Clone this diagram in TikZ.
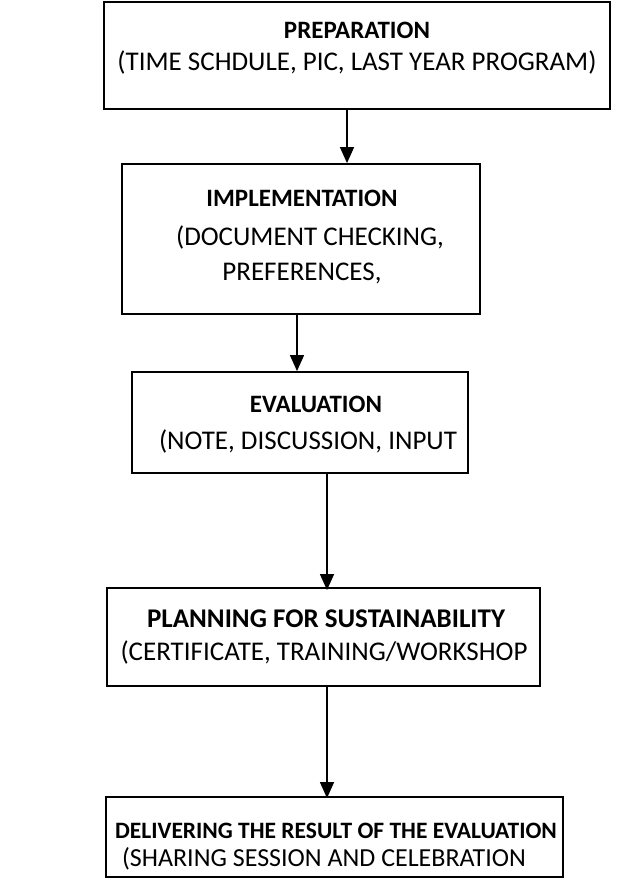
\documentclass[tikz,border=0pt]{standalone}
\usepackage{fontspec}
\setmainfont{Carlito}
\usetikzlibrary{arrows.meta}
\tikzset{
  boxframe/.style={draw, line width=1.8bp, rectangle, inner sep=0pt},
  titletext/.style={anchor=base, inner sep=0pt, font=\bfseries\fontsize{#1}{#1}\selectfont},
  subtext/.style={anchor=base, inner sep=0pt, font=\fontsize{#1}{#1}\selectfont},
  flowarrow/.style={line width=1.3bp, -{Triangle[width=14bp,length=16bp]}}
}
\begin{document}
\begin{tikzpicture}[x=1bp,y=-1bp]
\useasboundingbox (0,0) rectangle (641,879);
% boxes
\node[boxframe, minimum width=506bp, minimum height=107bp] (b1) at (357,55.5) {};
\node[boxframe, minimum width=358bp, minimum height=150bp] (b2) at (301,239) {};
\node[boxframe, minimum width=336bp, minimum height=101bp] (b3) at (300,422.5) {};
\node[boxframe, minimum width=433bp, minimum height=98bp] (b4) at (323.5,637) {};
\node[boxframe, minimum width=457bp, minimum height=80bp] (b5) at (334.5,837) {};
% texts
\node[titletext=25bp] (t1a) at (357,38) {PREPARATION};
\node[subtext=27bp] (t1b) at (357,70.5) {(TIME SCHDULE, PIC, LAST YEAR PROGRAM)};
\node[titletext=25bp] (t2a) at (302,206) {IMPLEMENTATION};
\node[subtext=27bp] (t2b) at (310,245) {(DOCUMENT CHECKING,};
\node[subtext=27bp] (t2c) at (302,280) {PREFERENCES,};
\node[titletext=25bp] (t3a) at (316,412) {EVALUATION};
\node[subtext=27bp] (t3b) at (308,449) {(NOTE, DISCUSSION, INPUT};
\node[titletext=27bp] (t4a) at (326,627) {PLANNING FOR SUSTAINABILITY};
\node[subtext=27bp] (t4b) at (324,660) {(CERTIFICATE, TRAINING/WORKSHOP};
\node[titletext=23.5bp] (t5a) at (336,838) {DELIVERING THE RESULT OF THE EVALUATION};
\node[subtext=26bp] (t5b) at (324,866) {(SHARING SESSION AND CELEBRATION};
% arrow columns
\coordinate (c1) at (347,0);
\coordinate (c2) at (297,0);
\coordinate (c3) at (327,0);
\coordinate (c4) at (327,0);
\draw[flowarrow] (b1.south -| c1) -- (b2.north -| c1);
\draw[flowarrow] (b2.south -| c2) -- (b3.north -| c2);
\draw[flowarrow] (b3.south -| c3) -- ([yshift=-3bp]b4.north -| c3);
\draw[flowarrow] ([yshift=2bp]b4.south -| c4) -- ([yshift=-2bp]b5.north -| c4);
\end{tikzpicture}
\end{document}
